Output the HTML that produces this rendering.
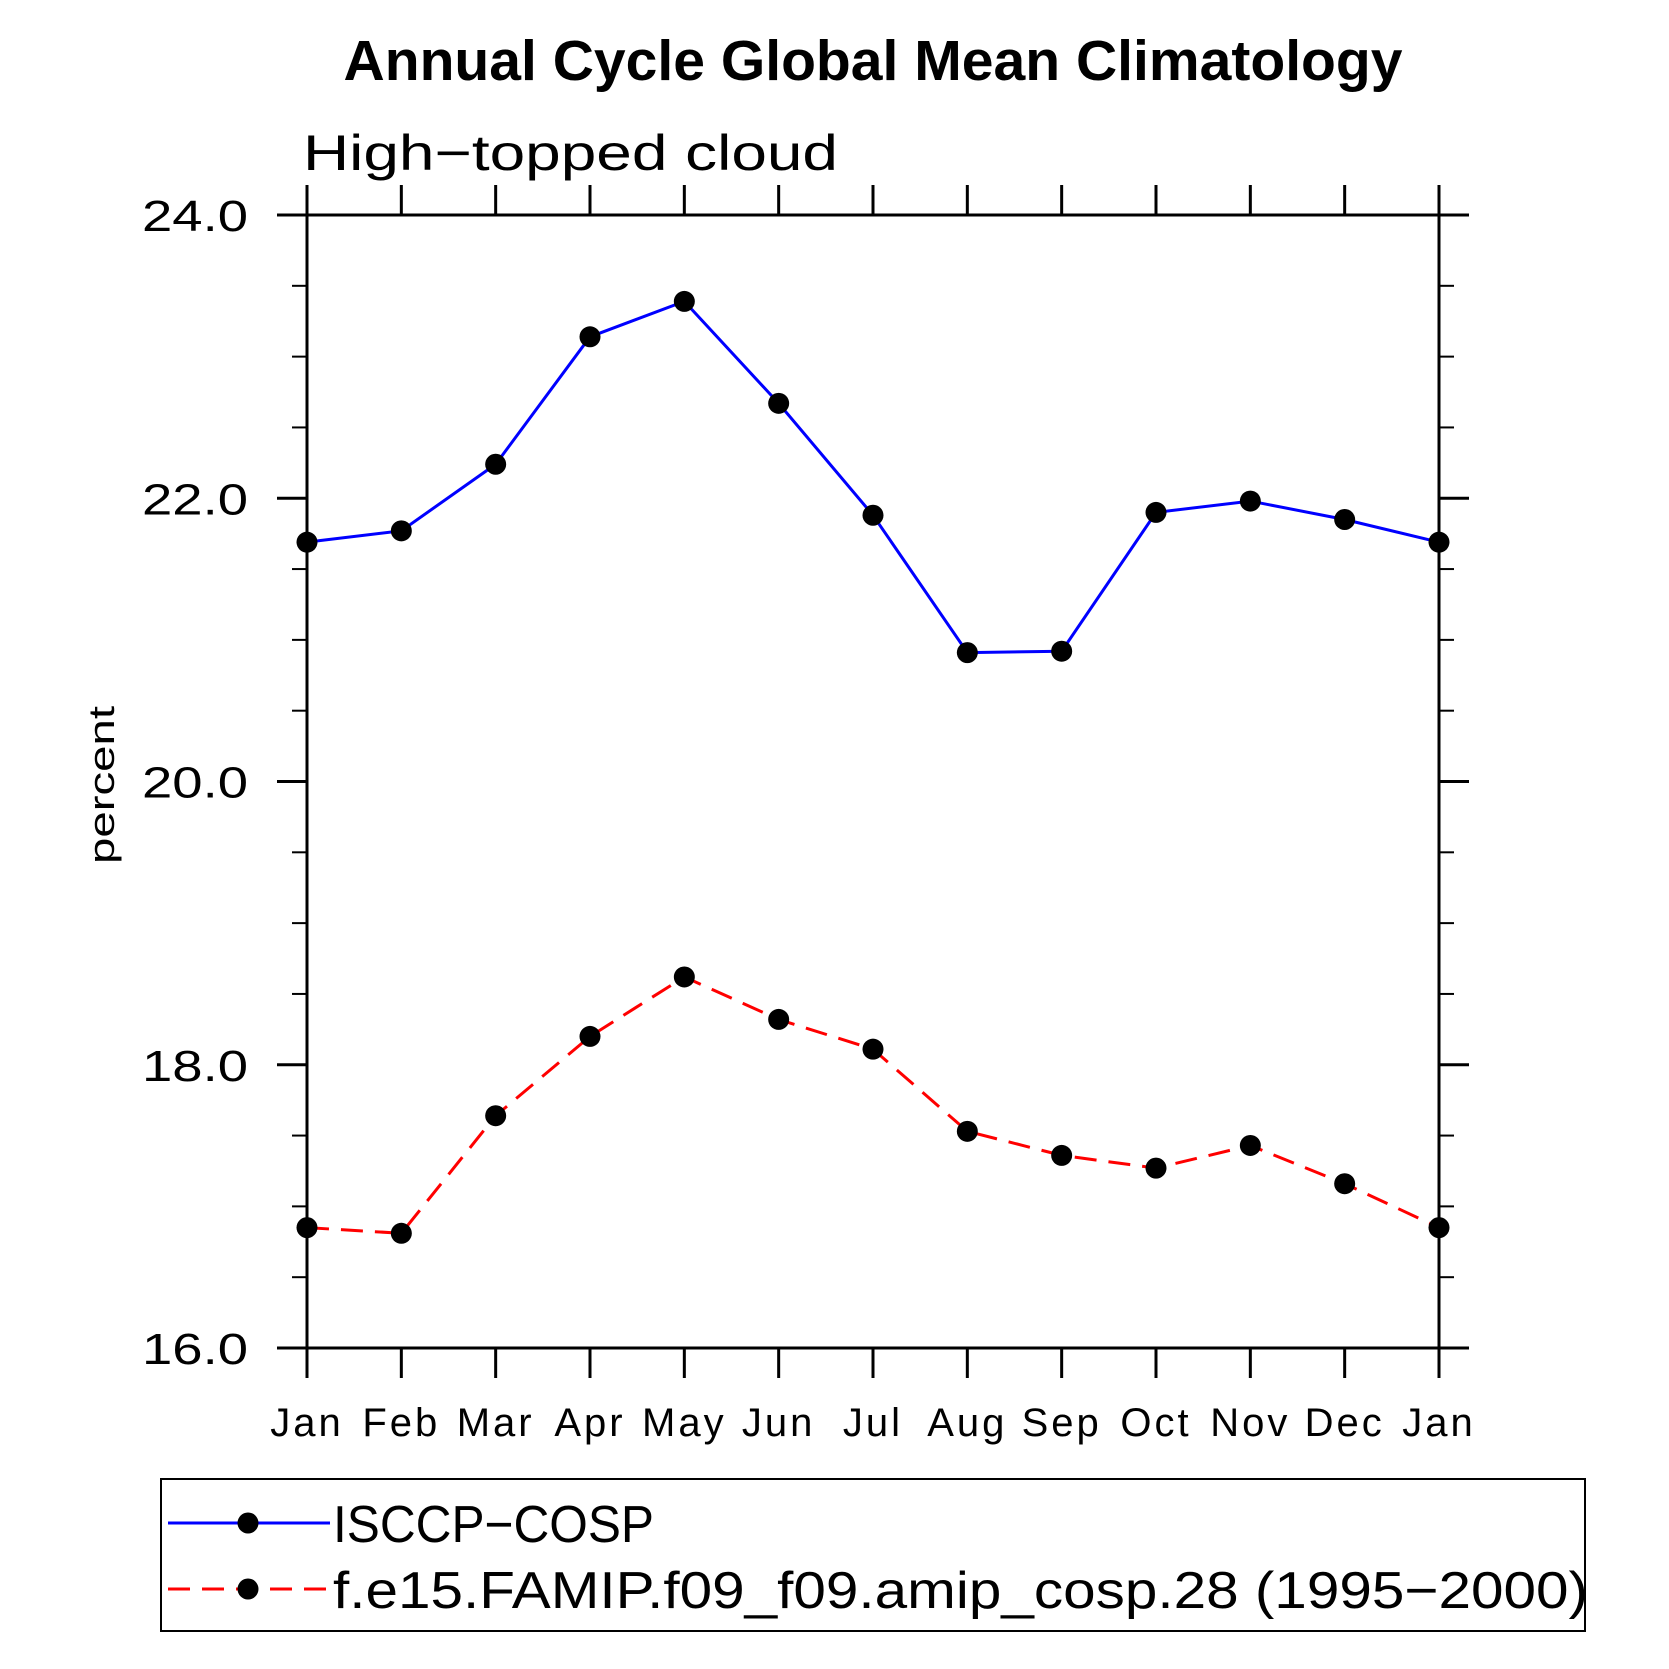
<!DOCTYPE html>
<html><head><meta charset="utf-8"><style>
html,body{margin:0;padding:0;background:#fff}
svg{display:block}
text{font-family:"Liberation Sans",sans-serif}
</style></head><body>
<svg id="chart" width="1669" height="1669" viewBox="0 0 1669 1669" xmlns="http://www.w3.org/2000/svg">
<text x="873" y="80" text-anchor="middle" font-size="57" font-weight="bold" textLength="1059" lengthAdjust="spacingAndGlyphs">Annual Cycle Global Mean Climatology</text>
<text x="303" y="170" font-size="50" textLength="535" lengthAdjust="spacingAndGlyphs">High−topped cloud</text>
<text transform="translate(114,785) rotate(-90)" text-anchor="middle" font-size="36" textLength="158" lengthAdjust="spacingAndGlyphs">percent</text>
<g id="axes"></g>
<g id="series"></g>
<rect x="161" y="1479" width="1424" height="152" fill="none" stroke="#000" stroke-width="2"/>
<g id="legend"></g>
</svg>
<script>
const months = ["Jan","Feb","Mar","Apr","May","Jun","Jul","Aug","Sep","Oct","Nov","Dec","Jan"];
const isccp = [21.69,21.77,22.24,23.14,23.39,22.67,21.88,20.91,20.92,21.90,21.98,21.85,21.69];
const model = [16.85,16.81,17.64,18.20,18.62,18.32,18.11,17.53,17.36,17.27,17.43,17.16,16.85];
const yTicks = [16,18,20,22,24];
const yTickLabels = ["16.0","18.0","20.0","22.0","24.0"];
const seriesNames = ["ISCCP−COSP","f.e15.FAMIP.f09_f09.amip_cosp.28 (1995−2000)"];

const L=307,R=1439,T=215,B=1348,yMin=16,yMax=24;
const NS="http://www.w3.org/2000/svg";
const x=i=>L+(R-L)*i/(months.length-1);
const y=v=>B-(B-T)*(v-yMin)/(yMax-yMin);
function mk(tag,attrs,parent){const e=document.createElementNS(NS,tag);for(const k in attrs)e.setAttribute(k,attrs[k]);parent.appendChild(e);return e;}
const ax=document.getElementById('axes');
const frame=mk('rect',{x:L,y:T,width:R-L,height:B-T,fill:'none',stroke:'#000','stroke-width':3},ax);


months.forEach((m,i)=>{
  const xi=x(i);
  const t1=mk('line',{x1:xi,y1:B,x2:xi,y2:B+30,stroke:'#000','stroke-width':3},ax);
  
  
  const t2=mk('line',{x1:xi,y1:T,x2:xi,y2:T-30,stroke:'#000','stroke-width':3},ax);
  
  
  const lb=mk('text',{x:xi,y:1436,'text-anchor':'middle','font-size':40,'letter-spacing':3},ax);
  lb.textContent=m;
  
  
});
for(let v=yMin;v<=yMax+1e-9;v+=0.5){
  const major=Math.abs(v-Math.round(v/2)*2)<1e-9;
  const len=major?30:15;
  const a=mk('line',{x1:L-len,y1:y(v),x2:L,y2:y(v),stroke:'#000','stroke-width':major?3:2},ax);
  
  
  const b=mk('line',{x1:R,y1:y(v),x2:R+len,y2:y(v),stroke:'#000','stroke-width':major?3:2},ax);
  
  
}
yTicks.forEach((v,i)=>{
  const lb=mk('text',{x:142,y:y(v)+16,'font-size':44,textLength:106,lengthAdjust:'spacingAndGlyphs'},ax);
  lb.textContent=yTickLabels[i];
  
  
});
const sg=document.getElementById('series');
function drawSeries(vals,color,dash,name){
  const pts=vals.map((v,i)=>x(i)+','+y(v)).join(' ');
  const pl=mk('polyline',{points:pts,fill:'none',stroke:color,'stroke-width':3},sg);
  if(dash)pl.setAttribute('stroke-dasharray',dash);
  
  
  vals.forEach((v,i)=>{
    const c=mk('circle',{cx:x(i),cy:y(v),r:10.5,fill:'#000'},sg);
    
    
  });
}
drawSeries(isccp,'#0000ff',null,'isccp');
drawSeries(model,'#ff0000','22 12','model');
const lg=document.getElementById('legend');
const legendLens=[321,1255];
[[1523,'#0000ff',null],[1589,'#ff0000','22 12']].forEach((e,i)=>{
  const ln=mk('line',{x1:168,y1:e[0],x2:330,y2:e[0],stroke:e[1],'stroke-width':3},lg);
  if(e[2])ln.setAttribute('stroke-dasharray',e[2]);
  
  
  const c=mk('circle',{cx:248,cy:e[0],r:10.5,fill:'#000'},lg);
  
  
  const t=mk('text',{x:333,y:e[0]+19,'font-size':52,textLength:legendLens[i],lengthAdjust:'spacingAndGlyphs'},lg);
  t.textContent=seriesNames[i];
  
  
});
</script>
</body></html>
